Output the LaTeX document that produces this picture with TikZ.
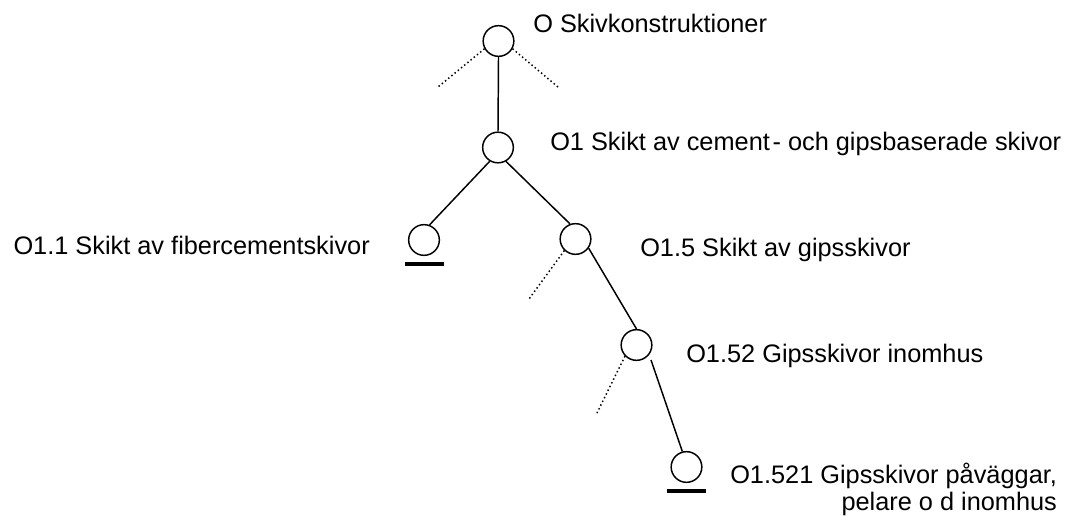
\documentclass[tikz,border=0pt]{standalone}
\usepackage{fontspec}
\setmainfont{Liberation Sans}
\usetikzlibrary{calc}
\begin{document}
\begin{tikzpicture}[x=0.75pt,y=-0.75pt,
  nd/.style={draw,circle,line width=1.1pt,minimum size=23pt,inner sep=0pt},
  conn/.style={line width=1.1pt},
  dots/.style={line width=1.1pt,dotted},
  bar/.style={fill=black},
  lbl/.style={anchor=base west,inner sep=0pt,font=\fontsize{19}{23}\selectfont}]
\useasboundingbox (0,0) rectangle (1074,517);
% nodes
\node[nd] (n0) at (498.5,41) {};
\node[nd] (n1) at (498,147.5) {};
\node[nd] (n11) at (424,240) {};
\node[nd] (n15) at (575.5,239) {};
\node[nd] (n152) at (636.5,345) {};
\node[nd] (n1521) at (686.5,467) {};
% labels
\node[lbl] (t0) at (533,33) {O Skivkonstruktioner};
\node[lbl] (t1) at (550,150) {O1 Skikt av cement\kern2pt- och gipsbaserade skivor};
\node[lbl,anchor=base east] (t11) at (370,254) {O1.1 Skikt av fibercementskivor};
\node[lbl] (t15) at (640,256) {O1.5 Skikt av gipsskivor};
\node[lbl] (t152) at (686,362) {O1.52 Gipsskivor inomhus};
\node[lbl] (t1521) at (730,483) {O1.521 Gipsskivor påväggar,};
\node[lbl,anchor=base east] (t1521b) at ($(t1521.base east)+(0,27)$) {pelare o d inomhus};
% dotted stubs
\coordinate (d0l) at (438,87);
\coordinate (d0r) at (558,87);
\coordinate (d15) at (529,299);
\coordinate (d152) at (596,415);
% connectors
\draw[conn] (n0.south) -- (n1.north);
\draw[conn] (n1.239) -- (n11.70);
\draw[conn] (n1.300) -- (n15.110);
\draw[conn] (n15.325) -- (n152.north);
\draw[conn] ($(n152.center)+(14.5,15)$) -- (n1521.105);
\draw[dots] (n0.209) -- (d0l);
\draw[dots] (n0.331) -- (d0r);
\draw[dots] (n15.226) -- (d15);
\draw[dots] (n152.224) -- (d152);
% underline bars
\fill[bar] ($(n11.south)+(-19.5,5.5)$) rectangle ($(n11.south)+(19.5,9.5)$);
\fill[bar] ($(n1521.south)+(-19.5,5.5)$) rectangle ($(n1521.south)+(19.5,10)$);
\end{tikzpicture}
\end{document}
